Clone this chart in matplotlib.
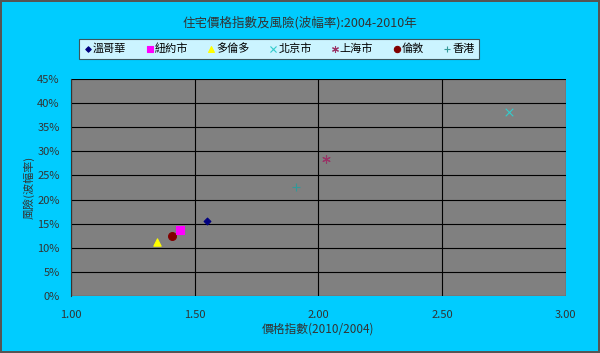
import matplotlib
matplotlib.use("Agg")
import matplotlib.pyplot as plt
from matplotlib.ticker import FuncFormatter

plt.rcParams['font.family'] = ['Noto Sans CJK TC', 'DejaVu Sans']

cities = ['溫哥華', '紐約市', '多倫多', '北京市', '上海市', '倫敦', '香港']
price_idx = [1.55, 1.44, 1.35, 2.77, 2.03, 1.41, 1.91]
risk = [0.156, 0.137, 0.112, 0.382, 0.284, 0.124, 0.226]

markers = ['D', 's', '^', 'x', (6, 2, 0), 'o', '+']
colors = ['#000080', '#FF00FF', '#FFFF00', '#33CCCC', '#993366', '#800000', '#339999']
sizes = [12, 30, 28, 30, 30, 32, 30]

fig = plt.figure(figsize=(6, 3.53), dpi=100)
fig.patch.set_facecolor('#00CCFF')
fig.patch.set_edgecolor('#555555')
fig.patch.set_linewidth(1.5)

ax = fig.add_axes([0.118, 0.1615, 0.825, 0.6145])
ax.set_facecolor('#808080')

for c, x, y, m, col, s in zip(cities, price_idx, risk, markers, colors, sizes):
    z = 4 if m == 's' else 3
    ax.scatter([x], [y], marker=m, color=col, s=s, label=c, zorder=z, linewidths=0.8)

ax.set_xlim(1.0, 3.0)
ax.set_ylim(0, 0.45)
ax.set_xticks([1.0, 1.5, 2.0, 2.5, 3.0])
ax.set_yticks([i * 0.05 for i in range(10)])
ax.xaxis.set_major_formatter(FuncFormatter(lambda v, p: '%.2f' % v))
ax.yaxis.set_major_formatter(FuncFormatter(lambda v, p: '%d%%' % round(v * 100)))
ax.grid(True, color='black', linewidth=0.8)
ax.set_axisbelow(True)
for s in ['top', 'right', 'bottom']:
    ax.spines[s].set_visible(False)
ax.spines['left'].set_color('#333333')
ax.tick_params(length=0, labelsize=8, colors='#333333')
ax.tick_params(axis='x', pad=10)
ax.tick_params(axis='y', pad=8)

ax.set_xlabel('價格指數(2010/2004)', fontsize=8.5, color='#333333', labelpad=2)
ax.set_ylabel('風險(波幅率)', fontsize=8, color='#333333', labelpad=2)

fig.text(0.5, 0.935, '住宅價格指數及風險(波幅率):2004-2010年', ha='center', va='center',
         fontsize=9, color='#333333')

leg = fig.legend(loc='center', bbox_to_anchor=(0.465, 0.862), ncol=7, fontsize=8,
                 frameon=True, fancybox=False, edgecolor='#333333', handletextpad=0.05,
                 columnspacing=1.7, handlelength=0.8, borderpad=0.4, markerscale=0.8)
leg.get_frame().set_linewidth(0.8)

fig.savefig('out.png', dpi=100, facecolor=fig.get_facecolor(), edgecolor=fig.get_edgecolor())
